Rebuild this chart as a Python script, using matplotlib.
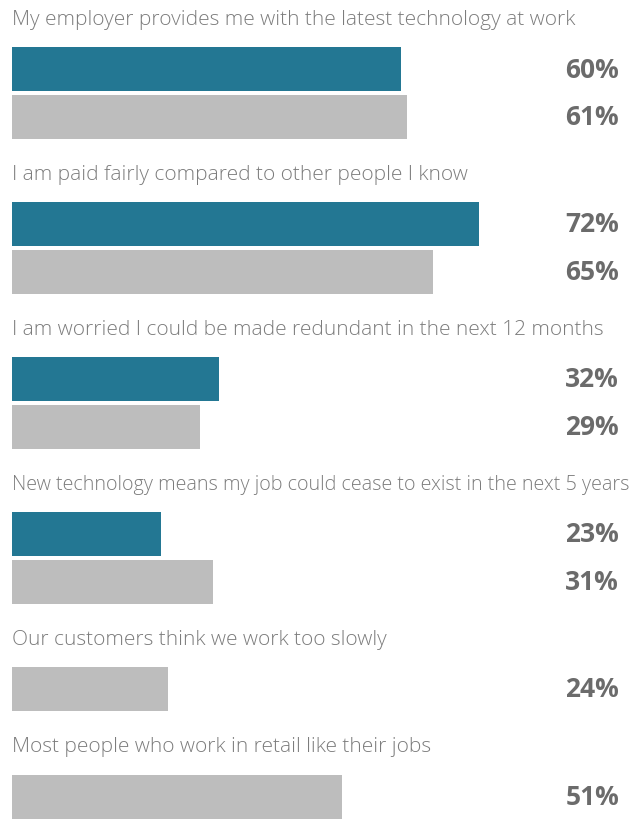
import matplotlib
matplotlib.use("Agg")
import matplotlib.pyplot as plt

questions = [
    "My employer provides me with the latest technology at work",
    "I am paid fairly compared to other people I know",
    "I am worried I could be made redundant in the next 12 months",
    "New technology means my job could cease to exist in the next 5 years",
    "Our customers think we work too slowly",
    "Most people who work in retail like their jobs",
]
series_a = [60, 72, 32, 23, None, None]   # teal
series_b = [61, 65, 29, 31, 24, 51]       # gray

TEAL = "#237793"
GRAY = "#bdbdbd"
LABEL_C = "#6b6b6b"
TITLE_C = "#7c7c7c"

W, H, DPI = 633, 820, 100
fig = plt.figure(figsize=(W / DPI, H / DPI), dpi=DPI)
ax = fig.add_axes([0, 0, 1, 1])
px_per_pct = 6.48
x0 = 12
ax.set_xlim(-x0 / px_per_pct, (W - x0) / px_per_pct)
ax.set_ylim(H, 0)
ax.axis("off")

bar_h = 44
step_in = 47.5
step_between = 107.5
title_max_w = W - x0 - 3
y = 48.0
renderer = fig.canvas.get_renderer()
for q, a, b in zip(questions, series_a, series_b):
    t = ax.text(0, y - 23, q, fontsize=15.05, family=["Open Sans", "DejaVu Sans"],
                fontweight="light", color=TITLE_C, va="baseline", ha="left")
    w = t.get_window_extent(renderer=renderer).width
    if w > title_max_w:
        t.set_fontsize(15.05 * title_max_w / w)
    vals = [(a, TEAL), (b, GRAY)]
    for v, c in vals:
        if v is None:
            continue
        ax.barh(y + bar_h / 2, v, height=bar_h, left=0, color=c, edgecolor="none")
        ax.text((619 - x0) / px_per_pct, y + bar_h / 2, f"{v}%", fontsize=19,
                family=["Open Sans", "DejaVu Sans"], fontweight="bold",
                color=LABEL_C, ha="right", va="center")
        y += step_in
    y += step_between - step_in

fig.savefig("out.png", dpi=DPI)
